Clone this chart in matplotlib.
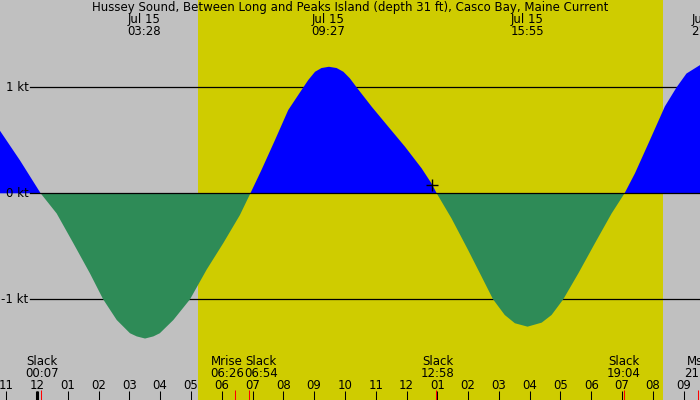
import matplotlib.pyplot as plt
import matplotlib.transforms as mtransforms
import numpy as np

title = "Hussey Sound, Between Long and Peaks Island (depth 31 ft), Casco Bay, Maine Current"

# current speed, hours after midnight Jul 15
hours = [-1.2, -0.55, 0.12, 0.64, 1.18, 1.72, 2.15, 2.59, 3.02, 3.24, 3.51, 3.78, 3.99, 4.43, 4.97,
         5.51, 6.05, 6.59, 6.93,
         7.29, 7.73, 8.16, 8.65, 8.81, 9.03, 9.24, 9.48, 9.73, 9.95, 10.16, 10.38, 10.87,
         11.41, 11.95, 12.49, 12.81, 12.98,
         13.46, 14.0, 14.44, 14.81, 15.19, 15.52, 15.93, 16.39, 16.71, 17.09, 17.58, 18.12,
         18.66, 19.08,
         19.42, 19.9, 20.39, 20.77, 21.09, 21.53]
knots = [0.59, 0.31, 0.0, -0.19, -0.47, -0.755, -1.0, -1.195, -1.32, -1.35, -1.37, -1.35, -1.32, -1.195, -1.0,
         -0.72, -0.47, -0.205, 0.0,
         0.22, 0.503, 0.786, 1.0, 1.069, 1.147, 1.182, 1.194, 1.182, 1.147, 1.085, 1.0, 0.817,
         0.628, 0.44, 0.236, 0.094, 0.0,
         -0.236, -0.535, -0.787, -1.0, -1.148, -1.226, -1.258, -1.22, -1.148, -1.0, -0.755, -0.47,
         -0.19, 0.0,
         0.19, 0.5, 0.82, 1.0, 1.13, 1.21]

# max / min current labels on top
peak_hours = [3.47, 9.45, 15.92, 21.78]
peak_labels = ["03:28", "09:27", "15:55", "21:47"]

# events along the bottom (label position nudged where labels collide)
event_names = ["Slack", "Mrise", "Slack", "Slack", "Slack", "Mset"]
event_times = ["00:07", "06:26", "06:54", "12:58", "19:04", "21:29"]
event_hours = [0.117, 6.433, 6.9, 12.967, 19.067, 21.48]
event_label_hours = [0.15, 6.17, 7.27, 13.02, 19.06, 21.56]

sunrise = 5.23
sunset = 20.33
now_hour, now_knots = 12.83, 0.078

hour_ticks = list(range(-1, 22))

night = "#c0c0c0"
day = "#cfcc00"
flood = "#0000ff"
ebb = "#2e8b57"

fig = plt.figure(figsize=(7, 4), dpi=100, facecolor=night)
ax = fig.add_axes([0, 0, 1, 1], facecolor=night)
ax.set_xlim(-1.2, 21.53)
ax.set_ylim(-1.95, 1.824)
for s in ax.spines.values():
    s.set_visible(False)
ax.set_xticks([])
ax.set_yticks([])

ax.axvspan(sunrise, sunset, color=day, lw=0, zorder=0)

x0 = 30 / 700
for lev in [1, -1]:
    ax.axhline(lev, xmin=x0, xmax=1, color="black", lw=0.9, zorder=1)

h = np.array(hours)
k = np.array(knots)
ax.fill_between(h, k, 0, where=k >= 0, color=flood, lw=0, interpolate=True, zorder=2)
ax.fill_between(h, k, 0, where=k <= 0, color=ebb, lw=0, interpolate=True, zorder=2)
ax.axhline(0, xmin=x0, xmax=1, color="black", lw=0.9, zorder=3)
ax.plot(now_hour, now_knots, marker="+", color="black", ms=9, mew=1.0, zorder=4)

fs = 8.5
ytrans = mtransforms.blended_transform_factory(ax.transAxes, ax.transData)
for lev in [1, 0, -1]:
    ax.text(0.041, lev, f"{lev} kt", transform=ytrans, ha="right", va="center", fontsize=fs)

xtrans = mtransforms.blended_transform_factory(ax.transData, ax.transAxes)


def fy(py):
    return 1 - py / 400


ax.text(0.5, fy(7.5), title, transform=ax.transAxes, ha="center", va="center", fontsize=fs)
for ph, pl in zip(peak_hours, peak_labels):
    ax.text(ph, fy(19.5), "Jul 15", transform=xtrans, ha="center", va="center", fontsize=fs)
    ax.text(ph, fy(31.5), pl, transform=xtrans, ha="center", va="center", fontsize=fs)

for name, tm, lh in zip(event_names, event_times, event_label_hours):
    ax.text(lh, fy(361.5), name, transform=xtrans, ha="center", va="center", fontsize=fs)
    ax.text(lh, fy(373.5), tm, transform=xtrans, ha="center", va="center", fontsize=fs)

for hr in hour_ticks:
    ax.text(hr, fy(385.5), f"{(hr % 12) or 12:02d}", transform=xtrans,
            ha="center", va="center", fontsize=fs)
ax.vlines(hour_ticks, 0, fy(391), transform=xtrans, color="black", lw=0.75, zorder=5)
ax.vlines([0], 0, fy(391), transform=xtrans, color="black", lw=2.2, zorder=5)
ax.vlines(event_hours, 0, fy(390), transform=xtrans, color="red", lw=0.75, zorder=6)

fig.savefig("out.png", dpi=100, facecolor=night)
